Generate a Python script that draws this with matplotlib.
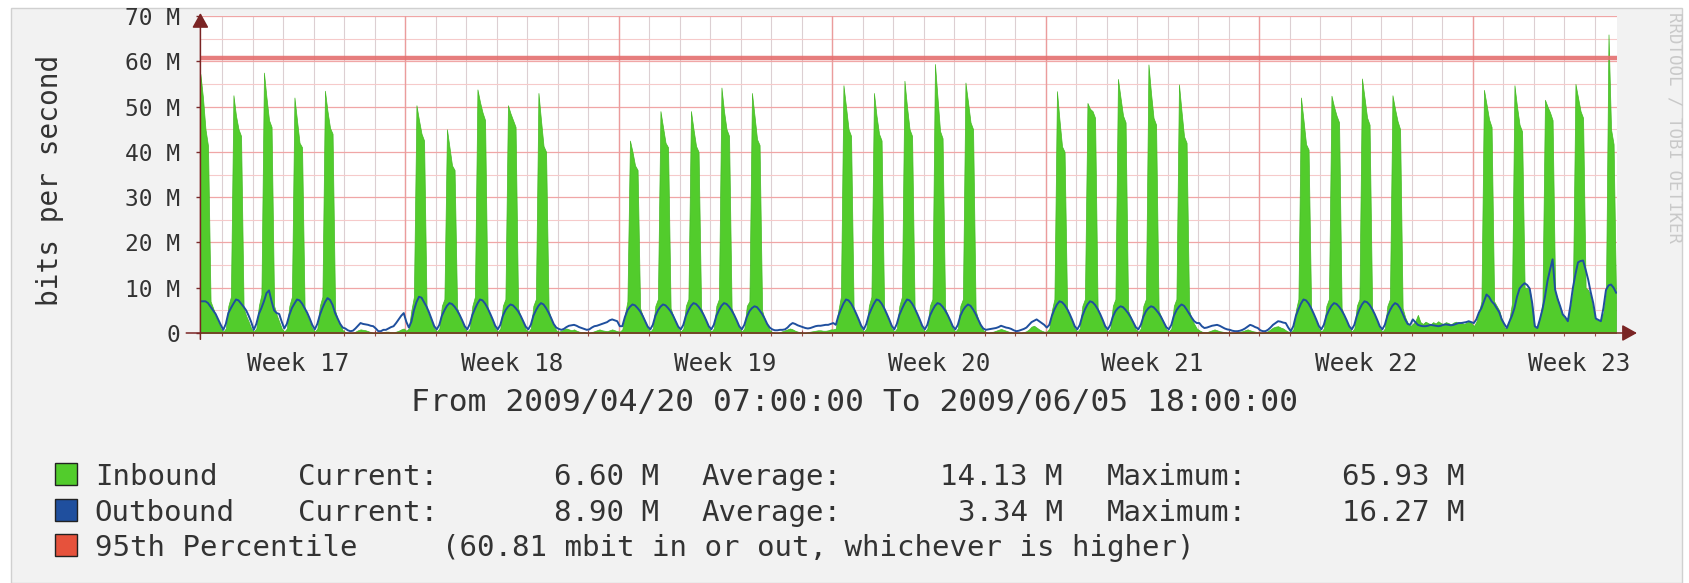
import datetime as dt
import matplotlib
matplotlib.use('Agg')
import matplotlib.pyplot as plt
import matplotlib.dates as mdates
from matplotlib.patches import Rectangle
from matplotlib.ticker import MultipleLocator, FuncFormatter
import numpy as np

plt.rcParams['font.family'] = ['DejaVu Sans Mono', 'DejaVu Sans']

# time frame of the graph
series_start = dt.datetime(2009, 4, 20, 6)   # first 2-hour sample
view_start = dt.datetime(2009, 4, 20, 7)
view_end = dt.datetime(2009, 6, 5, 18)
step_hours = 2

# inbound traffic, Mbit/s, one row per day (2-hour samples, 00,02,...,22)
inbound_rows = [
    [57.2, 52.0, 45.0, 41.3, 7.0, 5.5, 3.8, 2.5, 1.0],                    # Mon 04-20 (from 06:00)
    [0.3, 1.0, 6.0, 8.0, 52.5, 48.0, 45.0, 43.5, 5.5, 3.8, 2.5, 1.0],
    [0.3, 1.0, 6.0, 8.5, 57.5, 52.0, 47.0, 45.5, 6.0, 4.0, 2.5, 1.0],
    [0.3, 1.0, 6.0, 8.0, 52.0, 47.0, 42.0, 41.0, 5.5, 3.8, 2.5, 1.0],
    [0.3, 1.0, 6.0, 8.0, 53.5, 49.0, 45.3, 44.0, 5.0, 3.0, 1.8, 0.6],
    [0.2, 0.1, 0.1, 0.1, 0.3, 0.6, 0.8, 0.7, 0.6, 0.4, 0.2, 0.1],
    [0.1, 0.1, 0.1, 0.2, 0.3, 0.3, 0.2, 0.2, 0.3, 0.5, 0.8, 1.0],
    [0.5, 1.0, 5.0, 8.0, 50.3, 47.0, 44.0, 42.5, 5.5, 3.8, 2.5, 1.0],     # Mon 04-27
    [0.3, 1.0, 6.0, 7.5, 45.0, 41.0, 37.0, 36.0, 5.5, 3.8, 2.5, 1.0],
    [0.3, 1.0, 6.0, 8.0, 53.8, 51.0, 48.7, 47.0, 5.5, 3.8, 2.5, 1.0],
    [0.3, 1.0, 6.0, 7.5, 50.3, 48.5, 47.0, 45.5, 5.5, 3.5, 2.2, 0.8],
    [0.3, 1.0, 6.0, 7.5, 53.0, 47.0, 41.3, 40.0, 5.0, 3.0, 1.8, 0.6],
    [0.3, 0.5, 0.8, 1.0, 0.8, 0.6, 0.8, 0.5, 0.3, 0.2, 0.2, 0.1],
    [0.1, 0.2, 0.4, 0.6, 0.8, 0.6, 0.5, 0.4, 0.6, 0.8, 0.6, 0.4],
    [0.3, 0.8, 4.0, 7.0, 42.5, 40.0, 37.0, 36.0, 5.5, 3.8, 2.5, 1.0],     # Mon 05-04
    [0.3, 1.0, 6.0, 7.5, 49.0, 45.5, 42.0, 41.0, 5.5, 3.8, 2.5, 1.0],
    [0.3, 1.0, 6.0, 7.5, 49.0, 45.0, 41.3, 40.0, 5.5, 3.8, 2.5, 1.0],
    [0.3, 1.0, 6.0, 7.5, 54.2, 49.0, 45.0, 43.5, 5.5, 3.8, 2.5, 1.0],
    [0.3, 1.0, 6.0, 7.0, 53.0, 48.0, 42.8, 41.5, 5.0, 3.0, 1.8, 0.6],
    [0.2, 0.1, 0.1, 0.2, 0.4, 0.6, 0.8, 1.0, 0.8, 0.5, 0.3, 0.2],
    [0.1, 0.1, 0.2, 0.3, 0.4, 0.5, 0.6, 0.6, 0.5, 0.5, 0.6, 0.8],
    [0.8, 1.0, 5.0, 8.0, 54.7, 50.0, 45.0, 43.5, 5.5, 3.8, 2.5, 1.0],     # Mon 05-11
    [0.3, 1.0, 6.0, 8.0, 53.0, 48.0, 44.0, 42.5, 5.5, 3.8, 2.5, 1.0],
    [0.3, 1.0, 6.0, 8.0, 55.7, 50.0, 45.0, 43.5, 5.5, 3.8, 2.5, 1.0],
    [0.3, 1.0, 6.0, 7.5, 59.4, 52.0, 44.6, 43.0, 5.5, 3.8, 2.5, 1.0],
    [0.3, 1.0, 6.0, 7.5, 55.3, 51.0, 46.5, 45.0, 5.0, 3.0, 1.8, 0.6],
    [0.2, 0.1, 0.2, 0.3, 0.5, 0.7, 0.9, 0.7, 0.5, 0.3, 0.2, 0.1],
    [0.1, 0.1, 0.1, 0.2, 0.4, 0.8, 1.4, 1.6, 1.2, 0.8, 0.5, 0.3],
    [0.3, 1.0, 5.0, 7.5, 53.4, 47.0, 41.2, 40.0, 5.5, 3.8, 2.5, 1.0],     # Mon 05-18
    [0.3, 1.0, 6.0, 7.5, 50.8, 49.5, 49.0, 47.5, 5.5, 3.8, 2.5, 1.0],
    [0.3, 1.0, 6.0, 7.5, 56.1, 52.0, 48.0, 46.5, 5.0, 3.5, 2.2, 0.8],
    [0.3, 1.0, 6.0, 7.5, 59.3, 53.0, 47.5, 46.0, 5.0, 3.5, 2.2, 0.8],
    [0.3, 1.0, 6.0, 7.5, 54.9, 49.0, 43.4, 42.0, 5.0, 3.0, 2.0, 1.0],
    [0.6, 0.3, 0.2, 0.2, 0.4, 0.6, 0.8, 0.6, 0.4, 0.3, 0.2, 0.1],
    [0.1, 0.1, 0.1, 0.2, 0.3, 0.4, 0.6, 0.8, 0.6, 0.4, 0.3, 0.2],
    [0.1, 0.1, 0.2, 0.4, 0.8, 1.2, 1.4, 1.5, 1.2, 1.0, 0.6, 0.3],        # Mon 05-25
    [0.2, 0.8, 5.0, 7.5, 52.0, 47.0, 41.7, 40.5, 5.5, 3.8, 2.5, 1.0],
    [0.3, 1.0, 6.0, 7.5, 52.4, 50.0, 48.0, 46.5, 5.5, 3.8, 2.5, 1.0],
    [0.3, 1.0, 6.0, 7.5, 56.2, 52.0, 47.6, 46.0, 5.5, 3.8, 2.5, 1.0],
    [0.3, 1.0, 6.0, 7.5, 52.5, 49.5, 46.8, 45.0, 5.5, 3.5, 2.2, 1.5],
    [2.0, 2.6, 4.0, 2.4, 2.0, 2.5, 2.2, 1.9, 2.4, 2.1, 2.6, 2.2],
    [2.0, 2.4, 2.2, 1.9, 2.3, 2.5, 2.1, 2.4, 2.0, 2.2, 2.6, 2.3],
    [1.5, 2.5, 4.5, 7.0, 53.7, 50.5, 47.2, 45.5, 7.0, 6.0, 5.0, 3.0],     # Mon 06-01
    [1.2, 1.0, 3.0, 6.5, 54.7, 50.0, 46.0, 44.5, 10.0, 10.0, 9.5, 6.0],
    [1.2, 1.2, 3.5, 6.5, 51.5, 50.0, 48.7, 47.0, 9.0, 7.5, 5.5, 4.0],
    [3.0, 3.5, 6.0, 9.0, 55.0, 52.0, 49.0, 47.5, 10.0, 9.5, 8.0, 5.0],
    [3.0, 2.8, 3.0, 4.5, 9.0, 65.93, 45.0, 41.7, 6.6],                    # Fri 06-05 (to 18:00)
]

# outbound traffic, Mbit/s, same layout
outbound_rows = [
    [7.0, 7.0, 7.0, 6.6, 5.8, 5.0, 4.2, 3.0, 1.8],
    [0.7, 2.0, 4.4, 5.5, 6.5, 7.4, 7.2, 6.5, 5.8, 5.0, 3.8, 2.4],
    [0.7, 2.0, 4.2, 5.5, 7.0, 8.8, 9.4, 7.0, 5.0, 4.4, 4.2, 2.5],
    [1.0, 2.0, 4.0, 5.5, 6.5, 7.4, 7.2, 6.5, 5.5, 4.5, 3.2, 1.8],
    [0.8, 2.0, 4.0, 5.5, 6.8, 7.7, 7.3, 6.2, 4.4, 3.2, 2.0, 1.2],
    [1.0, 0.6, 0.4, 0.5, 1.0, 1.6, 2.2, 2.0, 1.9, 1.8, 1.6, 1.5],
    [1.0, 0.4, 0.4, 0.7, 0.7, 1.0, 1.3, 1.5, 2.2, 3.0, 3.8, 4.4],
    [2.5, 1.2, 2.5, 5.0, 6.8, 8.0, 7.8, 6.8, 5.8, 4.5, 3.0, 1.5],
    [0.8, 1.8, 3.8, 5.0, 6.0, 6.6, 6.4, 5.8, 5.0, 4.0, 2.8, 1.5],
    [0.8, 2.0, 4.0, 5.3, 6.5, 7.4, 7.2, 6.5, 5.5, 4.3, 3.0, 1.6],
    [0.8, 1.8, 3.8, 5.0, 5.8, 6.3, 6.1, 5.5, 4.8, 3.8, 2.6, 1.4],
    [0.8, 1.8, 3.8, 5.0, 6.0, 6.6, 6.3, 5.5, 4.5, 3.3, 2.0, 1.2],
    [0.9, 0.7, 0.9, 1.3, 1.6, 1.7, 1.8, 1.6, 1.3, 1.1, 0.9, 0.7],
    [0.8, 1.2, 1.5, 1.6, 1.8, 2.0, 2.2, 2.4, 2.8, 3.0, 2.8, 2.6],
    [1.5, 1.5, 3.5, 5.0, 5.8, 6.3, 6.1, 5.5, 4.8, 3.8, 2.6, 1.4],
    [0.8, 1.8, 3.8, 5.0, 5.8, 6.3, 6.1, 5.5, 4.8, 3.8, 2.6, 1.4],
    [0.8, 1.8, 3.8, 5.0, 6.0, 6.6, 6.4, 5.8, 5.0, 4.0, 2.8, 1.5],
    [0.8, 1.8, 3.8, 5.0, 6.0, 6.6, 6.4, 5.8, 5.0, 4.0, 2.8, 1.5],
    [0.8, 1.8, 3.6, 4.8, 5.5, 5.9, 5.7, 5.0, 4.2, 3.2, 2.0, 1.2],
    [0.8, 0.6, 0.6, 0.7, 0.7, 0.8, 1.2, 1.8, 2.2, 2.0, 1.7, 1.5],
    [1.3, 1.1, 1.0, 1.1, 1.3, 1.5, 1.6, 1.6, 1.7, 1.8, 1.8, 2.0],
    [2.2, 1.8, 3.8, 5.2, 6.5, 7.4, 7.2, 6.5, 5.5, 4.3, 3.0, 1.6],
    [0.8, 2.0, 4.0, 5.3, 6.5, 7.4, 7.2, 6.5, 5.5, 4.3, 3.0, 1.6],
    [0.8, 2.0, 4.0, 5.3, 6.5, 7.4, 7.2, 6.5, 5.5, 4.3, 3.0, 1.6],
    [0.8, 1.8, 3.8, 5.0, 6.0, 6.6, 6.4, 5.8, 5.0, 4.0, 2.8, 1.5],
    [0.8, 1.8, 3.8, 5.0, 5.8, 6.3, 6.0, 5.2, 4.2, 3.0, 1.8, 1.0],
    [0.7, 0.8, 0.9, 1.0, 1.1, 1.3, 1.6, 1.4, 1.2, 1.1, 0.9, 0.6],
    [0.4, 0.5, 0.7, 0.9, 1.2, 1.8, 2.4, 2.7, 3.0, 2.6, 2.2, 1.8],
    [1.2, 1.8, 3.8, 5.2, 6.3, 7.0, 6.8, 6.2, 5.3, 4.2, 2.9, 1.5],
    [0.8, 1.8, 3.8, 5.2, 6.3, 7.0, 6.8, 6.2, 5.3, 4.2, 2.9, 1.5],
    [0.8, 1.8, 3.6, 4.8, 5.5, 5.9, 5.7, 5.1, 4.4, 3.5, 2.4, 1.3],
    [0.8, 1.8, 3.6, 4.8, 5.5, 5.9, 5.7, 5.1, 4.4, 3.5, 2.4, 1.3],
    [0.8, 1.8, 3.8, 5.0, 5.8, 6.3, 6.0, 5.2, 4.3, 3.4, 2.6, 2.2],
    [2.2, 1.5, 1.1, 1.2, 1.4, 1.6, 1.7, 1.8, 1.6, 1.3, 1.0, 0.8],
    [0.7, 0.5, 0.4, 0.4, 0.5, 0.7, 1.0, 1.4, 1.8, 1.6, 1.3, 1.1],
    [0.6, 0.4, 0.4, 0.7, 1.2, 1.8, 2.2, 2.6, 2.5, 2.3, 2.2, 1.2],
    [0.4, 1.5, 3.8, 5.2, 6.5, 7.4, 7.2, 6.5, 5.5, 4.3, 3.0, 1.6],
    [0.8, 1.8, 3.8, 5.0, 6.0, 6.6, 6.4, 5.8, 5.0, 4.0, 2.8, 1.5],
    [0.8, 1.8, 3.8, 5.2, 6.3, 7.0, 6.8, 6.2, 5.3, 4.2, 2.9, 1.5],
    [0.8, 1.8, 3.8, 5.0, 6.0, 6.6, 6.3, 5.5, 4.3, 3.0, 2.0, 1.8],
    [3.0, 2.4, 1.8, 1.6, 1.5, 1.5, 1.6, 1.8, 1.7, 1.6, 1.5, 1.6],
    [1.8, 1.9, 1.8, 1.7, 1.8, 2.0, 2.2, 2.2, 2.3, 2.4, 2.6, 2.4],
    [2.2, 3.0, 4.5, 5.5, 7.0, 8.5, 8.0, 7.0, 6.4, 5.5, 4.6, 3.0],
    [2.0, 1.1, 2.5, 3.8, 5.5, 8.0, 9.8, 10.5, 11.0, 10.6, 9.8, 6.5],
    [1.5, 1.1, 3.0, 5.2, 8.0, 11.5, 14.0, 16.27, 9.6, 7.5, 5.9, 4.1],
    [3.5, 2.6, 6.0, 10.0, 13.0, 15.6, 15.9, 16.0, 14.0, 11.8, 9.0, 6.6],
    [3.2, 2.9, 2.6, 5.5, 9.5, 10.5, 10.7, 10.0, 8.9],
]

percentile_95 = 60.81
week_numbers = [17, 18, 19, 20, 21, 22, 23]
first_week_monday = dt.datetime(2009, 4, 20)

inbound_stats = ['6.60 M', '14.13 M', '65.93 M']
outbound_stats = ['8.90 M', '3.34 M', '16.27 M']

green = '#52cc2c'
blue = '#1f4f9e'
red = '#e6523c'
text_col = '#333333'

W, H = 1690, 583
def fx(px):
    return px / W
def fy(py):
    return 1 - py / H

inbound = np.concatenate([np.array(r, dtype=float) for r in inbound_rows])
outbound = np.concatenate([np.array(r, dtype=float) for r in outbound_rows])
t0 = mdates.date2num(series_start)
# each 2-hour sample is drawn at the middle of its interval
times = t0 + (np.arange(len(inbound)) + 0.5) * step_hours / 24

fig = plt.figure(figsize=(16.9, 5.83), dpi=100, facecolor='white')
fig.add_artist(Rectangle((fx(11), 0), fx(1682 - 11), 1 - 8 / H, transform=fig.transFigure,
                         facecolor='#f2f2f2', edgecolor='#d0d0d0', lw=1, zorder=-10))

ax = fig.add_axes([fx(200.4), fy(333), fx(1617.4 - 200.4), (333 - 16) / H])
ax.set_facecolor('white')
for s in ax.spines.values():
    s.set_visible(False)

# grid
ax.set_axisbelow(True)
ax.yaxis.set_major_locator(MultipleLocator(10))
ax.yaxis.set_minor_locator(MultipleLocator(5))
ax.xaxis.set_minor_locator(mdates.DayLocator())
ax.yaxis.grid(True, which='major', color='#f0a6a6', lw=0.9)
ax.yaxis.grid(True, which='minor', color='#f6caca', lw=0.8)
ax.xaxis.grid(True, which='minor', color='#dccfd2', lw=0.8)
x0, x1 = mdates.date2num(view_start), mdates.date2num(view_end)
for t in mdates.WeekdayLocator(byweekday=mdates.MO).tick_values(view_start, view_end):
    if x0 < t < x1:
        ax.axvline(t, color='#eb9c9c', lw=1.0, zorder=0.6)

# data
ax.fill_between(times, inbound, 0, facecolor=green, edgecolor='#45b826', lw=0.5, zorder=2)
ax.plot(times, outbound, color=blue, lw=1.4, zorder=3)
ax.axhline(percentile_95, color='#e46f6f', lw=3.2, alpha=0.9, zorder=4)

ax.set_xlim(x0, x1)
ax.set_ylim(0, 70)

# axes with arrows
arrow = dict(arrowstyle='-|>,head_length=0.9,head_width=0.5', color='#7a2424', lw=1.1,
             shrinkA=0, shrinkB=0)
ax.annotate('', xy=(0, 1.0095), xytext=(0, -0.02), xycoords='axes fraction',
            textcoords='axes fraction', arrowprops=arrow, annotation_clip=False, zorder=5)
ax.annotate('', xy=(1.0138, 0), xytext=(-0.01, 0), xycoords='axes fraction',
            textcoords='axes fraction', arrowprops=arrow, annotation_clip=False, zorder=5)

# ticks and labels
week_pos = [mdates.date2num(first_week_monday + dt.timedelta(days=7 * i + 3.5))
            for i in range(len(week_numbers))]
ax.set_xticks(week_pos)
ax.set_xticklabels(['Week %d' % w for w in week_numbers])
ax.yaxis.set_major_formatter(FuncFormatter(lambda v, p: '0' if v == 0 else '%d M' % v))
ax.tick_params(axis='x', which='major', length=0, pad=14, labelsize=17.5, labelcolor=text_col)
ax.tick_params(axis='x', which='minor', length=5, width=0.8, direction='inout', color='#9a4a4a')
ax.tick_params(axis='y', which='major', length=3, width=1, color='#7a2a2a', pad=11.5,
               labelsize=16.5, labelcolor=text_col)
ax.tick_params(axis='y', which='minor', length=0)

fig.text(fx(50), fy(180), 'bits per second', rotation=90, ha='center', va='center',
         fontsize=20, color=text_col)
fig.text(fx(855), fy(403), 'From 2009/04/20 07:00:00 To 2009/06/05 18:00:00',
         ha='center', va='center', fontsize=22.5, color=text_col)
fig.text(fx(1675), fy(12), 'RRDTOOL / TOBI OETIKER', rotation=270, rotation_mode='anchor',
         ha='left', va='center', fontsize=12.5, color='#c9c9c9')

# legend
rows = [
    (green, 485, 'Inbound', inbound_stats),
    (blue, 521, 'Outbound', outbound_stats),
]
lfs = 21
for col, base, name, stats in rows:
    fig.add_artist(Rectangle((fx(54.5), fy(base)), fx(23), 22 / H, transform=fig.transFigure,
                             facecolor=col, edgecolor='#222222', lw=1))
    fig.text(fx(94.7), fy(base), name, ha='left', va='baseline', fontsize=lfs, color=text_col)
    fig.text(fx(298.5), fy(base), 'Current:', ha='left', va='baseline', fontsize=lfs, color=text_col)
    fig.text(fx(659), fy(base), stats[0], ha='right', va='baseline', fontsize=lfs, color=text_col)
    fig.text(fx(701.5), fy(base), 'Average:', ha='left', va='baseline', fontsize=lfs, color=text_col)
    fig.text(fx(1063), fy(base), stats[1], ha='right', va='baseline', fontsize=lfs, color=text_col)
    fig.text(fx(1106.5), fy(base), 'Maximum:', ha='left', va='baseline', fontsize=lfs, color=text_col)
    fig.text(fx(1465), fy(base), stats[2], ha='right', va='baseline', fontsize=lfs, color=text_col)

fig.add_artist(Rectangle((fx(54.5), fy(556)), fx(23), 22 / H, transform=fig.transFigure,
                         facecolor=red, edgecolor='#222222', lw=1))
fig.text(fx(94.7), fy(556), '95th Percentile', ha='left', va='baseline', fontsize=lfs, color=text_col)
fig.text(fx(442), fy(556), '(%.2f mbit in or out, whichever is higher)' % percentile_95,
         ha='left', va='baseline', fontsize=lfs, color=text_col)

fig.savefig('out.png', dpi=100, facecolor='white')
